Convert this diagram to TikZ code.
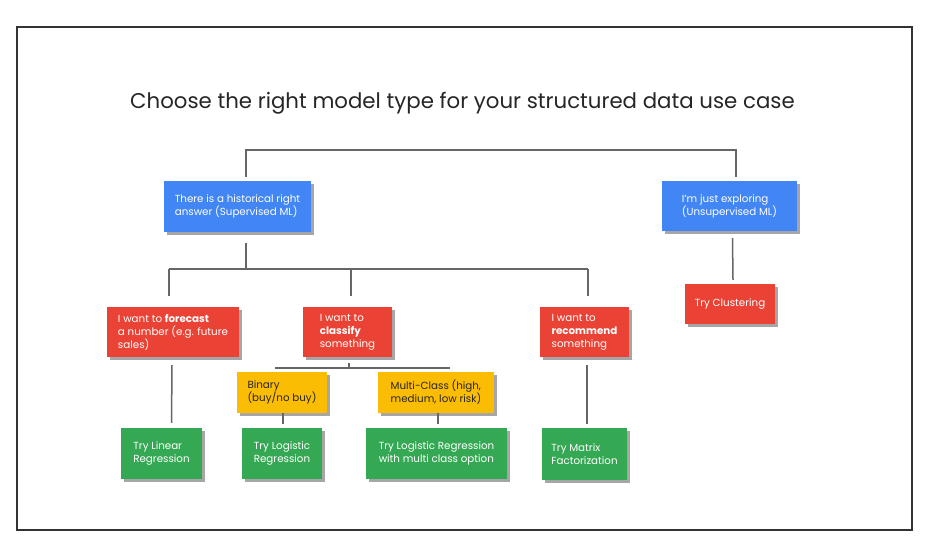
\documentclass[tikz,border=0pt]{standalone}
\usepackage{fontspec}
\setmainfont{Poppins}
\usetikzlibrary{shadows,calc}
\definecolor{gblue}{HTML}{4285F4}
\definecolor{gred}{HTML}{EA4335}
\definecolor{gyellow}{HTML}{FBBC04}
\definecolor{ggreen}{HTML}{34A853}
\definecolor{lineg}{HTML}{666666}
\definecolor{frameg}{HTML}{333333}
\tikzset{
  boxbase/.style={rectangle, inner sep=0pt, align=left, font=\fontsize{10.3}{13}\selectfont,
    text=white, drop shadow={shadow xshift=3pt, shadow yshift=-3pt, fill=black!35, opacity=1}},
  bluebox/.style={boxbase, fill=gblue},
  redbox/.style={boxbase, fill=gred},
  yellowbox/.style={boxbase, fill=gyellow, text=black!85},
  greenbox/.style={boxbase, fill=ggreen},
  conn/.style={draw=lineg, line width=1.5pt},
}
\begin{document}
\begin{tikzpicture}[x=1pt,y=-1pt]
\useasboundingbox (0,0) rectangle (928,545);
\fill[white] (0,0) rectangle (928,545);
\draw[frameg, line width=1.3pt] (17,27) rectangle (912,530);
\node[font=\fontsize{21.3}{25}\selectfont, text=black!85] (title) at (462.5,103) {Choose the right model type for your structured data use case};

\node[bluebox, minimum width=147pt, minimum height=51pt] (b1) at (237.5,206.5) {There is a historical right\\answer (Supervised ML)};
\node[bluebox, minimum width=135pt, minimum height=50pt] (b2) at (729.5,206) {I'm just exploring\\(Unsupervised ML)};

\node[redbox, minimum width=132pt, minimum height=50pt] (r1) at (173,332) {I want to \textbf{forecast}\\a number (e.g. future\\sales)};
\node[redbox, minimum width=89pt, minimum height=50pt] (r2) at (347.5,332) {I want to\\\textbf{classify}\\something};
\node[redbox, minimum width=89pt, minimum height=50pt] (r3) at (584.5,332) {I want to\\\textbf{recommend}\\something};
\node[redbox, minimum width=90pt, minimum height=40pt] (rc) at (730,304) {Try Clustering};

\node[yellowbox, minimum width=90pt, minimum height=41pt] (y1) at (282,392.5) {Binary\\(buy/no buy)};
\node[yellowbox, minimum width=116pt, minimum height=41pt] (y2) at (436,392.5) {Multi-Class (high,\\medium, low risk)};

\node[greenbox, minimum width=81pt, minimum height=51pt] (g1) at (161.5,453.5) {Try Linear\\Regression};
\node[greenbox, minimum width=80pt, minimum height=51pt] (g2) at (282,453.5) {Try Logistic\\Regression};
\node[greenbox, minimum width=141pt, minimum height=51pt] (g3) at (436.5,453.5) {Try Logistic Regression\\with multi class option};
\node[greenbox, minimum width=85pt, minimum height=52pt] (g4) at (584.5,454) {Try Matrix\\Factorization};

% junction coordinates
\coordinate (jt1) at (246,150);
\coordinate (jt2) at (736,150);
\coordinate (js) at (246,269);
\coordinate (js1) at (169,269);
\coordinate (js2) at (351,269);
\coordinate (js3) at (588,269);
\coordinate (jc) at (349,368);
\coordinate (jc1) at (275,368);
\coordinate (jc2) at (450,368);

\draw[conn] ($(b1.north -| jt1)+(0,4pt)$) -- (jt1) -- (jt2) -- ($(b2.north -| jt2)+(0,4pt)$);
\draw[conn] ($(b1.south -| js)+(0,-11pt)$) -- (js);
\draw[conn] (js1) -- (js3);
\draw[conn] (js1) -- ($(r1.north -| js1)+(0,11pt)$);
\draw[conn] (js2) -- ($(r2.north -| js2)+(0,11pt)$);
\draw[conn] (js3) -- ($(r3.north -| js3)+(0,11pt)$);
\draw[conn] ($(b2.south)+(3,-7pt)$) -- ($(rc.north)+(3,4pt)$);
\draw[conn] ($(r2.south -| jc)+(0,-6pt)$) -- (jc);
\draw[conn] (jc1) -- (jc2);
\draw[conn] ($(r1.south)+(-1,-8pt)$) -- ($(g1.north)+(10,5pt)$);
\draw[conn] ($(y1.south)+(1,0)$) -- ($(g2.north)+(1,4pt)$);
\draw[conn] ($(y2.south)+(2,0)$) -- ($(g3.north)+(1.5,4pt)$);
\draw[conn] ($(r3.south)+(2.5,-8pt)$) -- ($(g4.north)+(2.5,4pt)$);
\end{tikzpicture}
\end{document}
